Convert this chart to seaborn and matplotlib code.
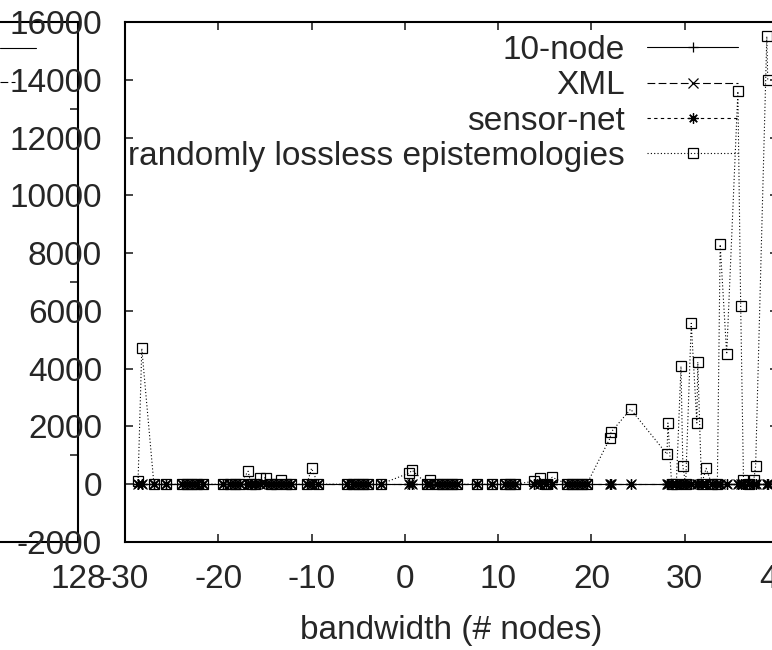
import matplotlib
matplotlib.use('Agg')
import matplotlib.pyplot as plt
from matplotlib.lines import Line2D
import seaborn as sns
import pandas as pd

bandwidth = [-28.6, -28.2, -26.9, -25.6, -23.9, -23.4, -22.8, -22.3, -21.6, -19.5,
             -18.7, -18.2, -17.7, -16.8, -16.5, -16.1, -15.5, -14.9, -14.4, -13.8,
             -13.3, -12.7, -12.2, -10.5, -10.0, -9.3, -6.2, -5.6, -5.0, -4.5,
             -4.0, -2.6, 0.4, 0.8, 2.4, 2.7, 3.4, 4.0, 4.5, 5.0,
             5.6, 7.7, 9.3, 10.7, 11.3, 11.8, 13.8, 14.5, 15.1, 15.8,
             17.4, 17.9, 18.4, 19.0, 19.5, 22.0, 22.1, 24.2, 28.1, 28.2,
             28.6, 29.1, 29.6, 29.8, 30.1, 30.7, 31.3, 31.4, 31.8, 32.3,
             32.9, 33.5, 33.8, 34.5, 35.7, 36.0, 36.3, 36.9, 37.4, 37.6,
             38.8, 38.9]
node10 = [0, 0, 0, 0, 0, 0, 0, 0, 0, 0, 0, 0, 0, 0, 0, 0, 0, 0, 0, 0,
          0, 0, 0, 0, 0, 0, 0, 0, 0, 0, 0, 0, 0, 0, 0, 0, 0, 0, 0, 0,
          0, 0, 0, 0, 0, 0, 0, 0, 0, 0, 0, 0, 0, 0, 0, 0, 0, 0, 0, 0,
          0, 0, 0, 0, 0, 0, 0, 0, 0, 0, 0, 0, 0, 0, 0, 0, 0, 0, 0, 0,
          0, 0]
xml = [0, 0, 0, 0, 0, 0, 0, 0, 0, 0, 0, 0, 0, 0, 0, 0, 0, 0, 0, 0,
       0, 0, 0, 0, 0, 0, 0, 0, 0, 0, 0, 0, 0, 0, 0, 0, 0, 0, 0, 0,
       0, 0, 0, 0, 0, 0, 0, 0, 0, 0, 0, 0, 0, 0, 0, 0, 0, 0, 0, 0,
       0, 0, 0, 0, 0, 0, 0, 0, 0, 0, 0, 0, 0, 0, 0, 0, 0, 0, 0, 0,
       0, 0]
sensor_net = [0, 0, 0, 0, 0, 0, 0, 0, 0, 0, 0, 0, 0, 0, 0, 0, 0, 0, 0, 0,
              0, 0, 0, 0, 0, 0, 0, 0, 0, 0, 0, 0, 0, 0, 0, 0, 0, 0, 0, 0,
              0, 0, 0, 0, 0, 0, 0, 0, 0, 0, 0, 0, 0, 0, 0, 0, 0, 0, 0, 0,
              0, 0, 0, 0, 0, 0, 0, 0, 0, 0, 0, 0, 0, 0, 0, 0, 0, 0, 0, 0,
              0, 0]
epistemologies = [100, 4700, 0, 0, 0, 0, 0, 0, 0, 0, 0, 0, 0, 450, 0, 0, 220, 220, 0, 0,
                  130, 0, 0, 0, 550, 0, 0, 0, 0, 0, 0, 0, 380, 480, 0, 140, 0, 0, 0, 0,
                  0, 0, 0, 0, 0, 0, 100, 200, 0, 240, 0, 0, 0, 0, 0, 1600, 1800, 2600, 1040, 2120,
                  0, 0, 4080, 620, 0, 5570, 2120, 4230, 0, 550, 0, 0, 8300, 4500, 13600, 6180, 140, 0, 140, 620,
                  15500, 14000]

series_names = ['10-node', 'XML', 'sensor-net', 'randomly lossless epistemologies']
x_ticks = [-30, -20, -10, 0, 10, 20, 30, 40]
y_ticks = [-2000, 0, 2000, 4000, 6000, 8000, 10000, 12000, 14000, 16000]
x_label = 'bandwidth (# nodes)'
bg_x_tick = [128]

df = pd.DataFrame({'bandwidth': bandwidth, series_names[0]: node10, series_names[1]: xml,
                   series_names[2]: sensor_net, series_names[3]: epistemologies})

sns.set_style('white')
plt.rcParams['font.family'] = ['Liberation Sans', 'DejaVu Sans']
FS = 24

W, H = 772, 650
fig = plt.figure(figsize=(W / 100, H / 100), dpi=100)

def fx(px):
    return px / W

def fy(py):
    return 1 - py / H

# background (partially visible) plot on the left
bg = fig.add_axes([fx(-600), fy(542), fx(678), (542 - 22) / H])
bg.set_facecolor('none')
bg.set_xlim(0, 128)
bg.set_ylim(-2000, 16000)
bg.set_xticks(bg_x_tick)
bg.set_xticklabels([str(v) for v in bg_x_tick], fontsize=FS)
bg.set_yticks([1000, 7000, 13000])
bg.tick_params(axis='y', left=False, right=True, labelleft=False, direction='in', length=6, width=1.2)
bg.tick_params(axis='x', bottom=True, direction='in', length=0, pad=16)
for s in ['top', 'bottom', 'right']:
    bg.spines[s].set_linewidth(1.5)
    bg.spines[s].set_color('black')
bg.spines['left'].set_visible(False)

fig.add_artist(Line2D([0, fx(36)], [fy(48), fy(48)], transform=fig.transFigure, color='black', lw=0.8))
fig.add_artist(Line2D([0, fx(15)], [fy(82), fy(82)], transform=fig.transFigure, color='black', lw=0.8,
                      linestyle=(0, (7, 3))))

# main plot
ax = fig.add_axes([fx(125), fy(542), fx(778 - 125), (542 - 22) / H])
styles = [
    dict(marker='+', linestyle='-'),
    dict(marker='x', linestyle=(0, (7, 3))),
    dict(marker=(8, 2, 0), linestyle=(0, (3, 3))),
    dict(marker='s', linestyle=(0, (1, 2))),
]
for name, st in zip(series_names, styles):
    sns.lineplot(data=df, x='bandwidth', y=name, ax=ax, color='black', lw=0.8,
                 estimator=None, sort=False, label=name, markersize=7.5,
                 markerfacecolor='none', markeredgecolor='black', markeredgewidth=0.9, **st)

ax.set_xlim(-30, 40)
ax.set_ylim(-2000, 16000)
ax.set_xticks(x_ticks)
ax.set_xticklabels([str(v) for v in x_ticks], fontsize=FS)
ax.set_yticks(y_ticks)
ax.set_yticklabels([str(v) for v in y_ticks], fontsize=FS)
ax.tick_params(axis='both', direction='in', length=6, width=1.2, top=True, right=True, bottom=True, left=True)
ax.tick_params(axis='x', pad=16)
ax.tick_params(axis='y', pad=16.5)
ax.set_xlabel(x_label, fontsize=FS, labelpad=14)
ax.set_ylabel('')
for s in ax.spines.values():
    s.set_linewidth(1.5)
    s.set_color('black')

leg = ax.legend(loc='upper right', bbox_to_anchor=(fx(738), fy(35)), bbox_transform=fig.transFigure,
                frameon=False, fontsize=FS, markerfirst=False, handlelength=2.73,
                handletextpad=0.66, labelspacing=0.13, borderpad=0, borderaxespad=0)

fig.savefig('out.png', dpi=100)
